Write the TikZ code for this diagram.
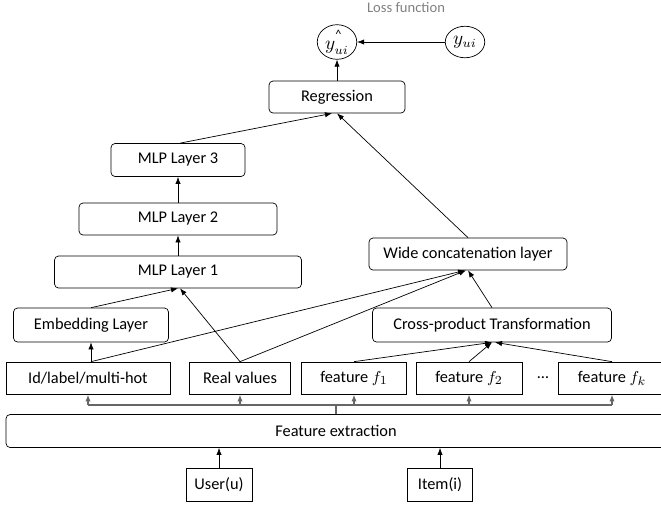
\documentclass[tikz,border=0pt]{standalone}
\usepackage{fontspec}
\setmainfont{Carlito}
\usetikzlibrary{arrows.meta,shapes.geometric}

\begin{document}
\begin{tikzpicture}[x=0.02cm, y=-0.02cm, >={Latex[length=4pt,width=3pt]},
		layer/.style={draw, rounded corners=0.8mm, minimum height=6.4mm, inner sep=0pt, font=\fontsize{9.3}{11}\selectfont},
		feat/.style={draw, minimum height=6.4mm, inner sep=0pt, font=\fontsize{9.3}{11}\selectfont},
		outp/.style={draw, ellipse, inner sep=0pt, minimum width=7.9mm, minimum height=6.3mm, font=\fontsize{10.5}{12}\selectfont},
		bus/.style={draw=black!60, line width=0.8pt}]
		%%%%% START %%%%%
		\useasboundingbox (0, 0) rectangle (661, 508);
		\clip (0, 0) rectangle (661, 508);
		
		\node[text=black!50, font=\fontsize{8.3}{10}\selectfont] (loss) at (406, 8) {Loss function};
		\node[outp] (yhat) at (337, 42) {$y^{\raisebox{0.5ex}{\scriptsize\^{}}}_{ui}$};
		\node[outp] (yui) at (465, 42) {$y_{ui}$};
		
		\node[layer, minimum width=27.2mm] (reg) at (337, 97) {Regression};
		
		\node[layer, minimum width=26.8mm, minimum height=6.6mm] (mlp3) at (178, 160) {MLP Layer 3};
		\node[layer, minimum width=39.6mm] (mlp2) at (178, 219) {MLP Layer 2};
		\node[layer, minimum width=49.4mm] (mlp1) at (178, 272) {MLP Layer 1};
		\node[layer, minimum width=39.6mm] (wide) at (468, 254) {Wide concatenation layer};
		
		\node[layer, minimum width=31mm, minimum height=6.8mm] (emb) at (91, 325) {Embedding Layer};
		\node[layer, minimum width=47.8mm, minimum height=6.8mm] (cross) at (492, 325) {Cross-product Transformation};
		
		\node[feat, minimum width=32.8mm] (idl) at (88, 378) {Id/label/multi-hot};
		\node[feat, minimum width=20.2mm] (real) at (240, 378) {Real values};
		\node[feat, minimum width=21mm] (f1) at (354, 378) {feature $f_1$};
		\node[feat, minimum width=21.2mm] (f2) at (469, 378) {feature $f_2$};
		\node[font=\fontsize{9.3}{11}\selectfont] (dots) at (543, 378) {\dots};
		\node[feat, minimum width=21.6mm] (fk) at (612, 378) {feature $f_k$};
		
		\node[layer, minimum width=132mm, minimum height=6.6mm] (fe) at (336, 431) {Feature extraction};
		
		\node[feat, minimum width=13.2mm, minimum height=6.6mm] (user) at (219, 485) {User(u)};
		\node[feat, minimum width=13mm, minimum height=6.6mm] (item) at (440, 485) {Item(i)};
		
		\coordinate (hub) at (336, 405);
		
		% inputs
		\draw[->] (user.north) -- (user.north |- fe.south);
		\draw[->] (item.north) -- (item.north |- fe.south);
		
		% distribution of the extracted features
		\draw[bus] (fe.north) -- (hub);
		\draw[bus] (idl.south |- hub) -- (fk.south |- hub);
		\foreach \f in {idl, real, f1, f2, fk}
			\draw[bus, ->] (\f.south |- hub) -- (\f.south);
		
		% deep part
		\draw[->] (emb.south |- idl.north) -- (emb.south);
		\draw[->] (emb.north) -- (mlp1.south);
		\draw[->] (real.north) -- ([xshift=0.4mm]mlp1.south);
		\draw[->] (mlp1) -- (mlp2);
		\draw[->] (mlp2) -- (mlp3);
		\draw[->] ([xshift=0.4mm]mlp3.north) -- ([xshift=-1mm]reg.south);
		
		% wide part
		\foreach \f in {f1, f2}
			\draw[->] (\f.north) -- (cross.south);
		\draw[->] (fk.north) -- ([xshift=0.6mm]cross.south);
		\draw[->] (emb.south |- idl.north) -- ([xshift=-0.6mm]wide.south);
		\draw[->] (real.north) -- ([xshift=-0.4mm]wide.south);
		\draw[->] (cross.north) -- (wide.south);
		\draw[->] (wide.north) -- (reg.south);
		
		% output
		\draw[->] (reg) -- (yhat);
		\draw[->] (yui) -- (yhat);
		%%%%% END %%%%%
	\end{tikzpicture}
\end{document}
